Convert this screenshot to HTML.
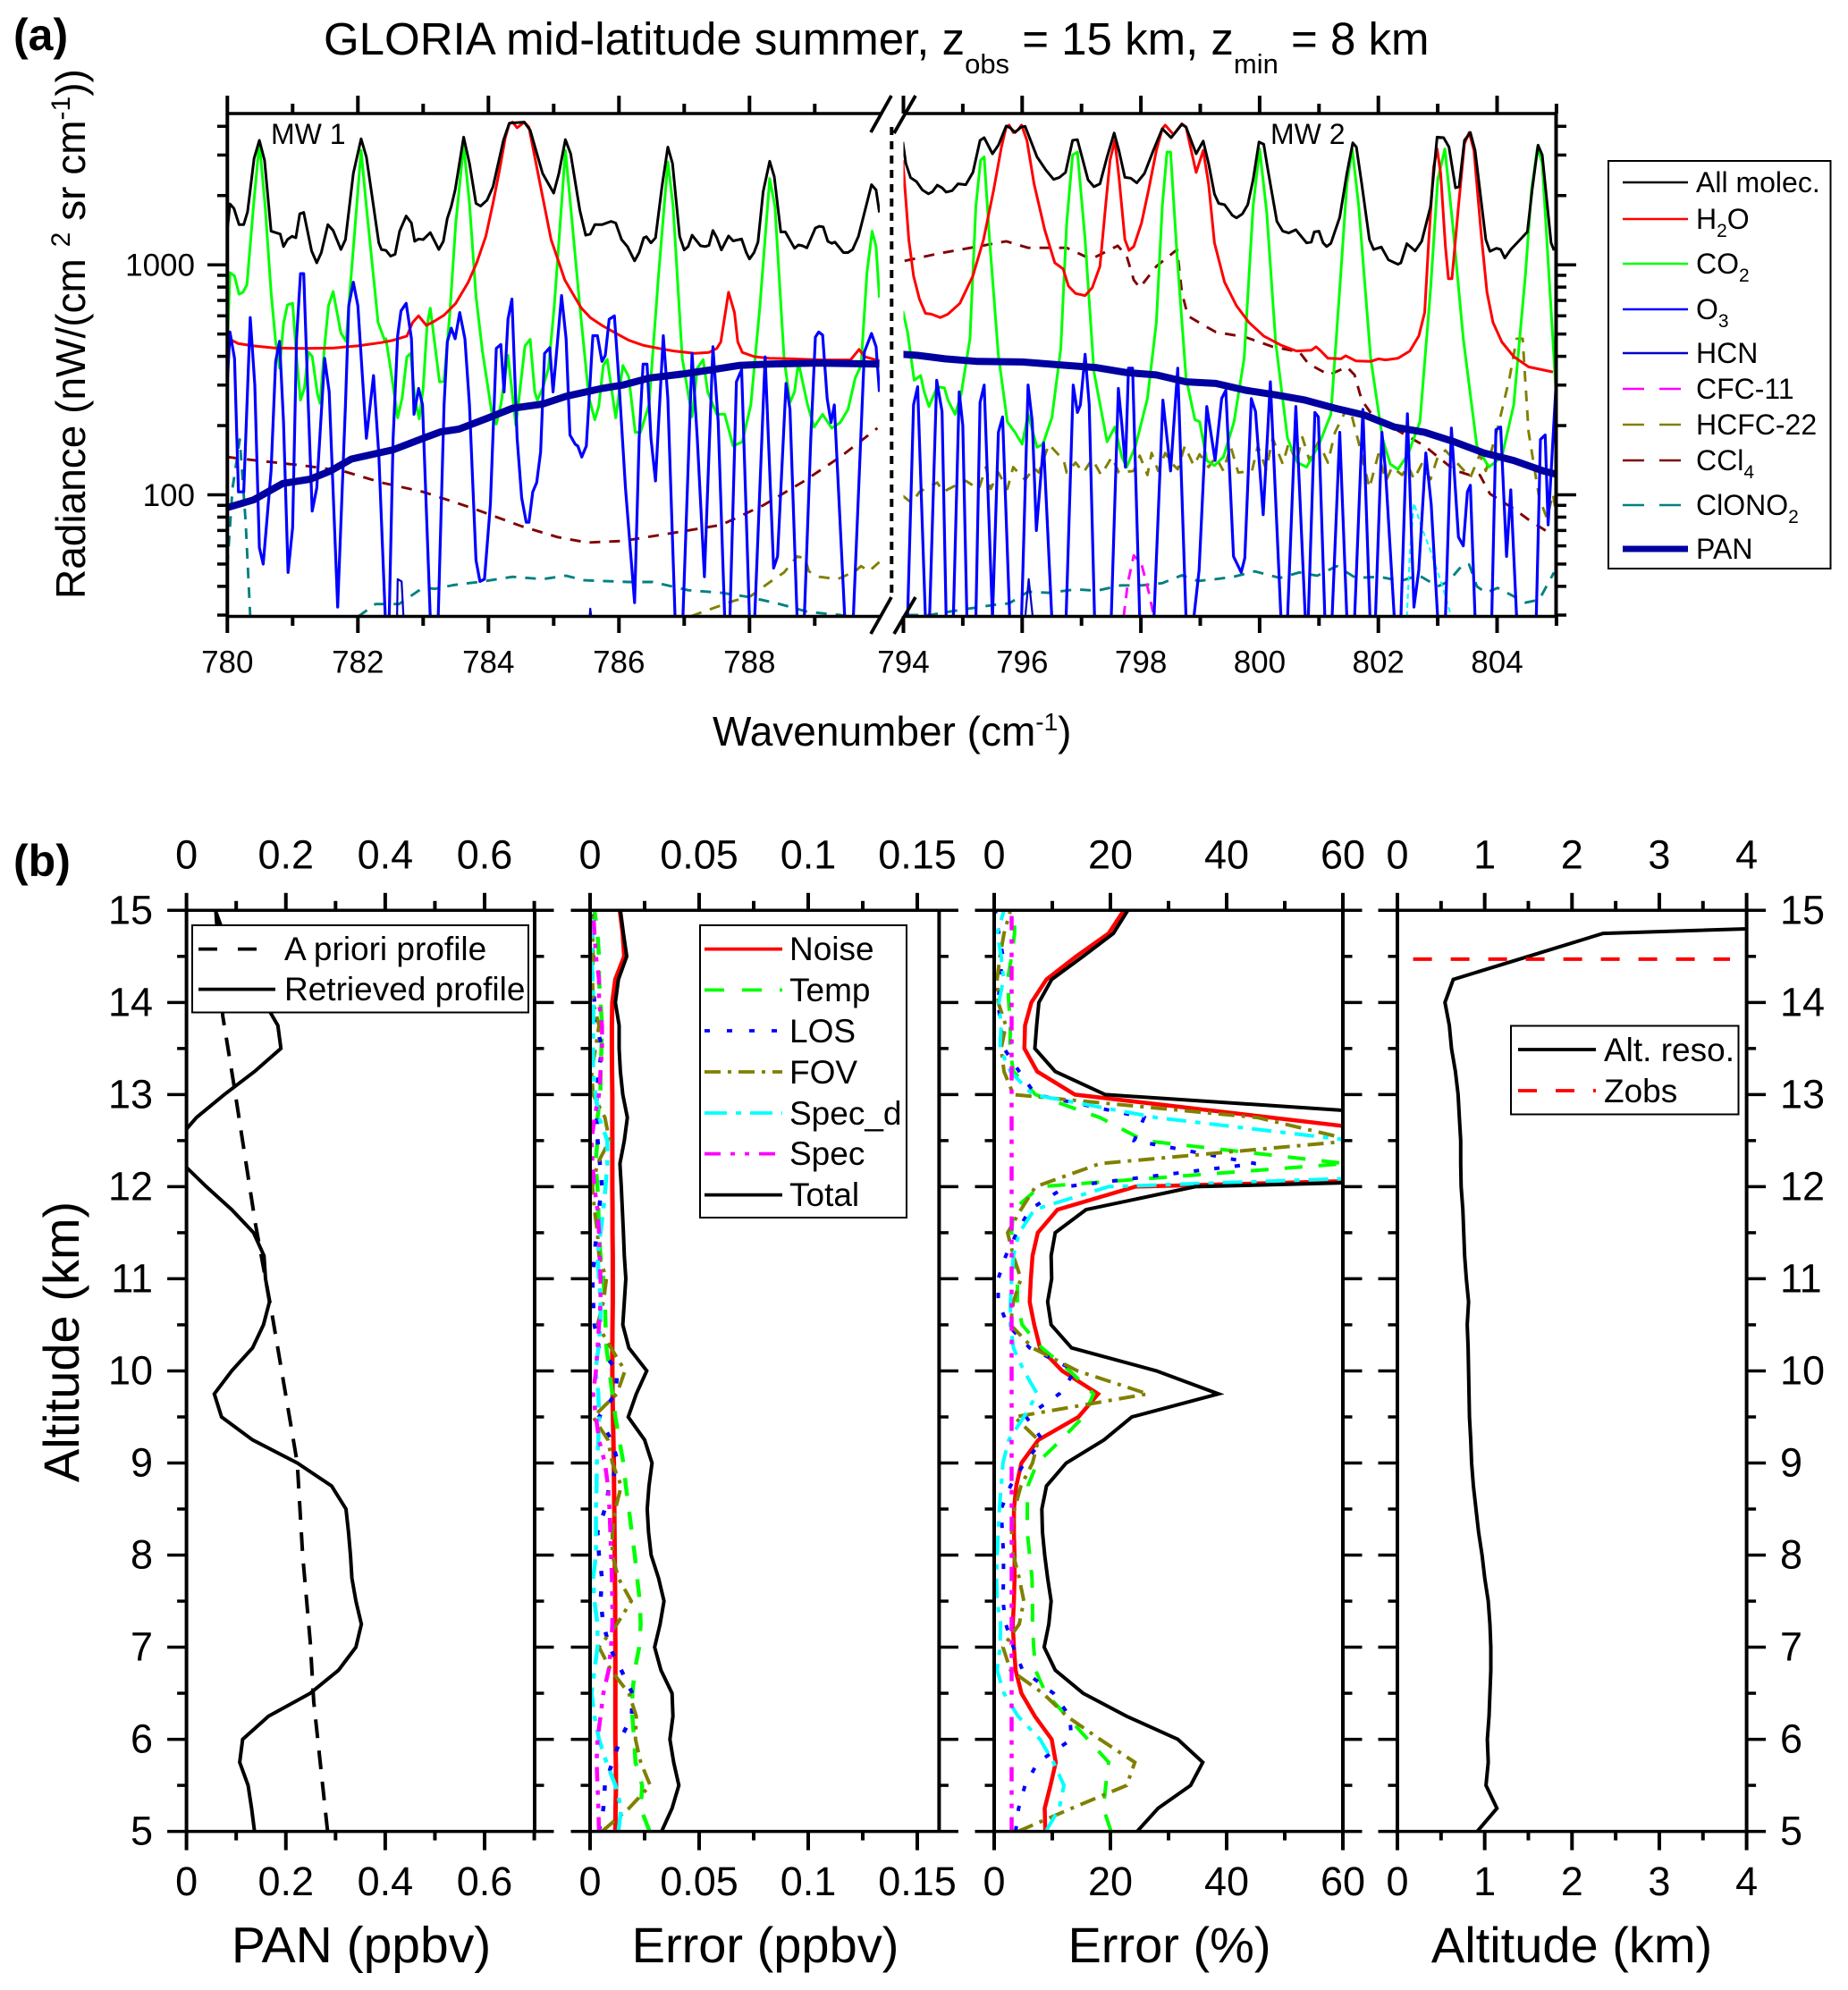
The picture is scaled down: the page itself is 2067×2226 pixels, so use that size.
<!DOCTYPE html>
<html lang="en">
<head>
<meta charset="utf-8">
<title>GLORIA mid-latitude summer PAN retrieval</title>
<style>
html,body{margin:0;padding:0;background:#fff;}
svg{display:block;}
text{font-family:"Liberation Sans",Arial,sans-serif;fill:#000;}
</style>
</head>
<body>
<svg id="root" xmlns="http://www.w3.org/2000/svg" width="2067" height="2226" viewBox="0 0 2067 2226">
<defs>
<clipPath id="clipA"><rect x="254" y="127" width="730" height="563"/><rect x="1010.5" y="127" width="730" height="563"/></clipPath>
<clipPath id="clipP1"><rect x="208.6" y="1018" width="389.4" height="1031"/></clipPath>
<clipPath id="clipP2"><rect x="660" y="1018" width="390.4" height="1031"/></clipPath>
<clipPath id="clipP3"><rect x="1112" y="1018" width="390" height="1031"/></clipPath>
<clipPath id="clipP4"><rect x="1563" y="1018" width="390.6" height="1031"/></clipPath>
</defs>
<rect x="0" y="0" width="2067" height="2226" fill="#fff"/>
<g id="marks"></g>
<g id="axes"></g>

<text x="15" y="56" font-size="50" font-weight="bold">(a)</text>
<text x="15" y="980" font-size="50" font-weight="bold">(b)</text>

<text x="362" y="61" font-size="51">GLORIA mid-latitude summer, z<tspan dy="21" font-size="31">obs</tspan><tspan dy="-21"> = 15 km, z</tspan><tspan dy="21" font-size="31">min</tspan><tspan dy="-21"> = 8 km</tspan></text>

<text x="797" y="834" font-size="46">Wavenumber (cm<tspan dy="-17" font-size="28">-1</tspan><tspan dy="17">)</tspan></text>
<text transform="translate(95 670) rotate(-90)" x="0" y="0" font-size="46">Radiance (nW/(cm <tspan dy="-17" font-size="30">2</tspan><tspan dy="17"> sr cm</tspan><tspan dy="-17" font-size="30">-1</tspan><tspan dy="17">))</tspan></text>

<text x="303" y="161" font-size="32">MW 1</text>
<text x="1421" y="161" font-size="32">MW 2</text>

<line x1="997.3" y1="142" x2="997.3" y2="668" stroke="#000" stroke-width="4" stroke-dasharray="9 7"/>
<g stroke="#000" stroke-width="3.8">
<line x1="974" y1="148" x2="997" y2="107"/>
<line x1="1000" y1="149" x2="1024" y2="107"/>
<line x1="974" y1="709" x2="997" y2="668"/>
<line x1="1000" y1="709" x2="1024" y2="668"/>
</g>

<!-- Legend panel a -->
<g>
<rect x="1799" y="180" width="248.5" height="456" fill="#fff" stroke="#000" stroke-width="2"/>
<g font-size="32">
<line x1="1815" y1="204" x2="1888" y2="204" stroke="#000" stroke-width="2.5"/>
<text x="1897" y="215">All molec.</text>
<line x1="1815" y1="245" x2="1888" y2="245" stroke="#f00" stroke-width="2.5"/>
<text x="1897" y="256">H<tspan dy="9" font-size="21">2</tspan><tspan dy="-9">O</tspan></text>
<line x1="1815" y1="295" x2="1888" y2="295" stroke="#0f0" stroke-width="2.5"/>
<text x="1897" y="306">CO<tspan dy="9" font-size="21">2</tspan></text>
<line x1="1815" y1="346" x2="1888" y2="346" stroke="#00f" stroke-width="2.5"/>
<text x="1897" y="357">O<tspan dy="9" font-size="21">3</tspan></text>
<line x1="1815" y1="395" x2="1888" y2="395" stroke="#0000c8" stroke-width="2.5"/>
<text x="1897" y="406">HCN</text>
<line x1="1815" y1="435" x2="1888" y2="435" stroke="#f0f" stroke-width="2.5" stroke-dasharray="24 17"/>
<text x="1897" y="446">CFC-11</text>
<line x1="1815" y1="475" x2="1888" y2="475" stroke="#808000" stroke-width="2.5" stroke-dasharray="24 17"/>
<text x="1897" y="486">HCFC-22</text>
<line x1="1815" y1="515" x2="1888" y2="515" stroke="#800000" stroke-width="2.5" stroke-dasharray="24 17"/>
<text x="1897" y="526">CCl<tspan dy="9" font-size="21">4</tspan></text>
<line x1="1815" y1="565" x2="1888" y2="565" stroke="#008080" stroke-width="2.5" stroke-dasharray="24 17"/>
<text x="1897" y="576">ClONO<tspan dy="9" font-size="21">2</tspan></text>
<line x1="1815" y1="614" x2="1888" y2="614" stroke="#0000a0" stroke-width="7"/>
<text x="1897" y="625">PAN</text>
</g>
</g>

<!-- Legend panel b1 -->
<g>
<rect x="215" y="1035" width="376" height="97.5" fill="#fff" stroke="#000" stroke-width="2"/>
<g font-size="37">
<line x1="222" y1="1061.6" x2="308" y2="1061.6" stroke="#000" stroke-width="3.8" stroke-dasharray="21 23"/>
<text x="318" y="1074">A priori profile</text>
<line x1="222" y1="1106.6" x2="308" y2="1106.6" stroke="#000" stroke-width="3.8"/>
<text x="318" y="1119">Retrieved profile</text>
</g>
</g>

<!-- Legend panel b2 -->
<g>
<rect x="783" y="1035" width="231" height="327" fill="#fff" stroke="#000" stroke-width="2"/>
<g font-size="37" stroke-width="3.8">
<line x1="788" y1="1061.6" x2="875" y2="1061.6" stroke="#f00"/>
<text x="883" y="1074">Noise</text>
<line x1="788" y1="1107.4" x2="875" y2="1107.4" stroke="#0f0" stroke-dasharray="22 20"/>
<text x="883" y="1120">Temp</text>
<line x1="788" y1="1153" x2="875" y2="1153" stroke="#00f" stroke-dasharray="6 19"/>
<text x="883" y="1166">LOS</text>
<line x1="788" y1="1199" x2="875" y2="1199" stroke="#808000" stroke-dasharray="18 8 4 8"/>
<text x="883" y="1212">FOV</text>
<line x1="788" y1="1245" x2="875" y2="1245" stroke="#0ff" stroke-dasharray="25 10 6 10"/>
<text x="883" y="1258">Spec_d</text>
<line x1="788" y1="1290.6" x2="875" y2="1290.6" stroke="#f0f" stroke-dasharray="18 11 5 11 5 11"/>
<text x="883" y="1303">Spec</text>
<line x1="788" y1="1336.6" x2="875" y2="1336.6" stroke="#000"/>
<text x="883" y="1349">Total</text>
</g>
</g>

<!-- Legend panel b4 -->
<g>
<rect x="1690" y="1147.5" width="254.5" height="99" fill="#fff" stroke="#000" stroke-width="2"/>
<g font-size="37" stroke-width="3.8">
<line x1="1698" y1="1174" x2="1785" y2="1174" stroke="#000"/>
<text x="1794" y="1187">Alt. reso.</text>
<line x1="1698" y1="1220" x2="1785" y2="1220" stroke="#f00" stroke-dasharray="21 21"/>
<text x="1794" y="1233">Zobs</text>
</g>
</g>

<text x="404" y="2195" font-size="57" text-anchor="middle">PAN (ppbv)</text>
<text x="856" y="2195" font-size="56" text-anchor="middle">Error (ppbv)</text>
<text x="1308" y="2195" font-size="56" text-anchor="middle">Error (%)</text>
<text x="1758" y="2195" font-size="56" text-anchor="middle">Altitude (km)</text>
<text transform="translate(88 1501) rotate(-90)" x="0" y="0" font-size="56" text-anchor="middle">Altitude (km)</text>
</svg>

<script>
// ===== Panel (a) tick values =====
const wnMajorLeft = [780, 782, 784, 786, 788];
const wnMinorLeft = [781, 783, 785, 787, 789];
const wnMajorRight = [794, 796, 798, 800, 802, 804];
const wnMinorRight = [795, 797, 799, 801, 803, 805];
const radianceMajor = [100, 1000];
const radianceMinor = [30, 40, 50, 60, 70, 80, 90, 200, 300, 400, 500, 600, 700, 800, 900, 2000, 3000, 4000];

// ===== Panel (a) spectra: [wavenumber cm-1, radiance nW/(cm2 sr cm-1)] =====
const allMolecSpectrum = [[780.00,1420],[780.04,1840],[780.10,1760],[780.18,1495],[780.25,1495],[780.31,1700],[780.41,2900],[780.49,3476],[780.57,2850],[780.67,1400],[780.81,1360],[780.86,1200],[780.92,1287],[780.99,1330],[781.05,1310],[781.11,1665],[781.17,1690],[781.29,1150],[781.37,1020],[781.44,1130],[781.54,1495],[781.62,1410],[781.74,1165],[781.81,1287],[781.93,2496],[782.05,3530],[782.13,2945],[782.32,1245],[782.36,1165],[782.43,1155],[782.50,1091],[782.57,1110],[782.64,1400],[782.74,1630],[782.82,1519],[782.87,1265],[782.93,1295],[783.00,1287],[783.11,1380],[783.24,1165],[783.31,1265],[783.37,1590],[783.43,1792],[783.49,2115],[783.62,3590],[783.71,2760],[783.81,1850],[783.88,1800],[783.98,1910],[784.07,2185],[784.23,3476],[784.32,4130],[784.55,4170],[784.64,3850],[784.83,2496],[785.00,2050],[785.08,2496],[785.18,3500],[785.26,3040],[785.40,1730],[785.49,1345],[785.56,1360],[785.63,1495],[785.74,1495],[785.88,1545],[785.95,1519],[786.04,1287],[786.13,1200],[786.24,1040],[786.31,1130],[786.38,1310],[786.42,1325],[786.49,1245],[786.56,1310],[786.66,2200],[786.75,3250],[786.82,2760],[786.93,1330],[787.00,1160],[787.06,1200],[787.12,1345],[787.25,1210],[787.32,1200],[787.38,1215],[787.44,1410],[787.50,1310],[787.57,1160],[787.68,1335],[787.75,1270],[787.88,1295],[787.95,1130],[788.00,1060],[788.07,1130],[788.13,1255],[788.21,2080],[788.31,2820],[788.38,2420],[788.48,1390],[788.55,1390],[788.69,1180],[788.75,1220],[788.81,1210],[788.88,1185],[789.01,1445],[789.07,1470],[789.13,1460],[789.20,1265],[789.26,1240],[789.31,1255],[789.44,1130],[789.51,1130],[789.58,1165],[789.67,1330],[789.87,2230],[789.94,2115],[789.99,1690],
[793.99,3420],[794.04,2760],[794.12,2390],[794.22,2300],[794.32,2115],[794.42,2035],[794.49,2080],[794.57,2220],[794.65,2160],[794.72,2070],[794.82,2100],[794.92,2250],[795.05,2230],[795.17,2520],[795.29,3476],[795.36,3570],[795.50,3040],[795.60,3310],[795.73,4010],[795.80,3940],[795.88,3760],[795.98,3970],[796.05,4000],[796.25,2945],[796.40,2580],[796.53,2350],[796.63,2400],[796.73,2520],[796.85,3476],[796.93,3500],[797.11,2340],[797.21,2185],[797.31,2250],[797.43,2945],[797.55,3740],[797.63,3140],[797.73,2400],[797.83,2380],[797.93,2270],[798.06,2496],[798.21,3140],[798.36,3900],[798.51,3570],[798.69,4080],[798.76,3970],[798.93,3040],[799.05,3450],[799.14,2760],[799.24,2030],[799.31,1850],[799.41,1825],[799.54,1640],[799.61,1600],[799.71,1665],[799.80,1825],[799.89,2340],[799.99,3420],[800.07,3340],[800.14,2580],[800.29,1545],[800.39,1400],[800.49,1375],[800.61,1420],[800.79,1245],[800.87,1255],[800.92,1390],[801.00,1400],[801.07,1245],[801.13,1200],[801.20,1240],[801.35,1610],[801.47,2496],[801.57,3390],[801.63,3250],[801.72,2250],[801.85,1287],[801.92,1165],[802.05,1195],[802.17,1050],[802.33,1005],[802.38,1020],[802.48,1235],[802.62,1150],[802.73,1265],[802.88,1792],[802.99,3590],[803.10,3570],[803.19,3250],[803.30,2160],[803.36,2185],[803.45,3476],[803.55,3760],[803.63,3140],[803.81,1287],[803.88,1145],[803.99,1180],[804.06,1165],[804.13,1070],[804.23,1165],[804.51,1390],[804.59,2115],[804.69,3310],[804.76,3000],[804.91,1245],[804.96,1155]];

const h2oSpectrum = [[780.02,477],[780.17,454],[780.40,444],[780.72,435],[781.17,433],[781.63,435],[782.00,444],[782.36,459],[782.54,470],[782.75,490],[782.84,562],[782.93,600],[783.05,545],[783.18,570],[783.32,604],[783.50,680],[783.69,840],[783.82,1020],[783.96,1330],[784.07,1850],[784.17,2580],[784.26,3590],[784.32,4100],[784.37,4170],[784.44,3940],[784.55,4170],[784.62,3970],[784.71,2945],[784.83,1980],[784.96,1287],[785.10,985],[785.17,860],[785.28,760],[785.42,650],[785.56,590],[785.74,545],[785.92,510],[786.15,470],[786.38,446],[786.61,433],[786.84,422],[787.16,412],[787.38,416],[787.50,433],[787.56,462],[787.68,760],[787.77,620],[787.82,462],[787.89,416],[788.07,399],[788.30,392],[788.66,390],[789.12,386],[789.55,386],[789.68,429],[789.76,399],[789.99,382],
[793.99,2850],[794.04,1910],[794.09,1287],[794.17,895],[794.27,710],[794.37,615],[794.47,610],[794.62,590],[794.75,610],[794.95,680],[795.17,895],[795.35,1287],[795.52,2115],[795.65,3250],[795.73,3970],[795.78,4050],[795.85,3760],[795.93,3860],[795.99,4050],[796.08,3476],[796.20,2250],[796.38,1420],[796.55,1020],[796.69,960],[796.78,808],[796.90,750],[797.06,735],[797.18,795],[797.31,985],[797.41,1850],[797.48,2850],[797.56,3476],[797.63,2420],[797.73,1287],[797.80,1155],[797.88,1200],[798.01,1519],[798.13,2115],[798.26,3140],[798.36,3900],[798.41,4050],[798.55,3680],[798.69,4100],[798.76,3970],[798.93,2520],[799.05,3140],[799.14,2250],[799.24,1245],[799.41,840],[799.61,664],[799.82,562],[800.07,490],[800.37,446],[800.62,422],[800.87,425],[800.95,440],[801.02,425],[801.15,392],[801.37,390],[801.45,402],[801.62,382],[801.87,380],[802.00,390],[802.12,386],[802.33,392],[802.53,422],[802.68,490],[802.78,620],[802.85,1287],[802.93,2660],[802.99,3190],[803.05,2496],[803.13,1200],[803.18,870],[803.24,870],[803.35,1792],[803.45,3360],[803.53,3760],[803.61,3140],[803.73,1375],[803.83,760],[803.93,562],[804.08,462],[804.28,399],[804.53,360],[804.94,342]];

const co2Spectrum = [[780.00,446],[780.04,924],[780.11,895],[780.18,745],[780.24,760],[780.30,820],[780.40,1792],[780.49,3400],[780.58,1792],[780.67,760],[780.74,463],[780.80,355],[780.86,555],[780.92,670],[781.00,680],[781.06,395],[781.12,258],[781.18,290],[781.24,418],[781.30,400],[781.38,275],[781.42,250],[781.49,446],[781.55,664],[781.62,765],[781.74,505],[781.82,465],[781.86,664],[782.05,3140],[782.13,1792],[782.31,562],[782.41,470],[782.43,477],[782.50,355],[782.61,216],[782.68,265],[782.75,398],[782.81,412],[782.87,265],[782.94,214],[783.00,290],[783.06,545],[783.11,648],[783.25,310],[783.32,312],[783.41,620],[783.50,1519],[783.62,3310],[783.71,1850],[783.81,730],[783.91,418],[784.05,230],[784.12,203],[784.19,246],[784.30,404],[784.42,200],[784.56,444],[784.64,474],[784.71,280],[784.75,258],[784.83,290],[784.92,355],[785.01,664],[785.18,3140],[785.26,1792],[785.40,664],[785.54,265],[785.63,212],[785.69,242],[785.76,365],[785.82,388],[785.95,216],[786.06,365],[786.15,326],[786.25,187],[786.33,187],[786.46,246],[786.61,924],[786.75,2800],[786.83,1792],[786.97,392],[787.12,218],[787.20,355],[787.29,387],[787.36,280],[787.50,224],[787.62,224],[787.75,163],[787.89,170],[788.02,246],[788.16,664],[788.31,2370],[788.39,1792],[788.53,392],[788.62,252],[788.69,280],[788.75,377],[788.89,246],[788.99,197],[789.12,224],[789.26,195],[789.39,206],[789.51,235],[789.62,322],[789.71,365],[789.80,924],[789.88,1400],[789.94,1200],[789.99,720],
[793.99,630],[794.07,510],[794.18,315],[794.29,330],[794.35,280],[794.43,242],[794.57,295],[794.69,292],[794.75,258],[794.87,224],[794.97,272],[795.12,477],[795.22,1792],[795.30,2850],[795.36,2945],[795.45,1287],[795.60,404],[795.75,208],[795.88,187],[796.00,166],[796.10,224],[796.25,161],[796.35,166],[796.50,216],[796.65,433],[796.75,1519],[796.85,3000],[796.93,3090],[797.06,1287],[797.21,342],[797.43,170],[797.56,197],[797.68,146],[797.76,132],[797.91,163],[798.11,262],[798.26,562],[798.36,1792],[798.44,3090],[798.50,3090],[798.61,1091],[798.76,322],[798.91,212],[798.99,208],[799.11,141],[799.24,134],[799.39,146],[799.57,208],[799.74,392],[799.89,1792],[800.00,3190],[800.12,1680],[800.27,462],[800.47,176],[800.64,138],[800.79,132],[800.99,163],[801.20,224],[801.35,783],[801.47,2250],[801.56,3190],[801.67,1792],[801.87,392],[802.07,176],[802.20,136],[802.33,129],[802.50,150],[802.70,208],[802.88,783],[803.00,2340],[803.12,3190],[803.25,1519],[803.43,477],[803.66,163],[803.86,132],[804.08,146],[804.28,246],[804.48,924],[804.58,2115],[804.68,3250],[804.76,2760],[804.99,290]];

const o3Spectrum = [[780.00,310],[780.04,510],[780.11,392],[780.17,103],[780.25,103],[780.35,590],[780.42,300],[780.49,59],[780.55,50],[780.67,127],[780.74,380],[780.80,465],[780.86,208],[780.93,46],[781.00,72],[781.06,477],[781.12,915],[781.17,915],[781.24,246],[781.30,85],[781.37,107],[781.49,392],[781.56,280],[781.69,32.5],[781.81,246],[781.86,664],[781.93,840],[782.00,664],[782.13,176],[782.24,330],[782.32,150],[782.42,29],[782.48,29],[782.54,176],[782.61,492],[782.66,630],[782.74,680],[782.82,477],[782.86,224],[782.93,290],[782.99,246],[783.11,29],[783.23,29],[783.32,246],[783.37,462],[783.43,530],[783.49,477],[783.56,620],[783.64,477],[783.71,246],[783.81,52],[783.87,42],[783.94,43],[784.03,91],[784.12,433],[784.19,450],[784.24,280],[784.30,580],[784.36,710],[784.44,176],[784.51,97],[784.58,76],[784.62,76],[784.68,103],[784.74,113],[784.80,154],[784.86,412],[784.94,436],[784.99,280],[785.12,735],[785.19,477],[785.25,182],[785.33,166],[785.37,163],[785.43,146],[785.50,163],[785.60,492],[785.67,492],[785.74,380],[785.79,404],[785.85,580],[785.93,600],[785.99,342],[786.10,107],[786.24,34],[786.31,176],[786.37,370],[786.43,370],[786.49,176],[786.56,115],[786.68,492],[786.75,262],[786.86,29],[786.98,29],[787.12,412],[787.20,176],[787.31,44],[787.44,440],[787.52,208],[787.62,29],[787.70,29],[787.80,310],[787.88,350],[788.00,29],[788.08,29],[788.24,398],[788.37,48],[788.43,54],[788.56,305],[788.62,235],[788.73,29],[788.84,29],[788.94,176],[789.01,485],[789.06,510],[789.12,495],[789.19,262],[789.25,206],[789.30,246],[789.46,29],[789.59,29],[789.76,418],[789.87,503],[789.94,440],[789.99,280],
[794.07,29],[794.17,246],[794.24,295],[794.37,29],[794.44,29],[794.56,315],[794.65,230],[794.72,29],[794.84,29],[794.94,280],[795.00,200],[795.07,29],[795.22,29],[795.29,252],[795.36,300],[795.50,29],[795.60,187],[795.67,218],[795.79,29],[795.99,29],[796.10,300],[796.17,208],[796.24,70],[796.36,168],[796.50,29],[796.74,29],[796.86,300],[796.93,228],[796.98,246],[797.06,408],[797.13,246],[797.22,29],[797.50,29],[797.62,290],[797.68,200],[797.74,132],[797.79,355],[797.86,355],[797.98,29],[798.22,29],[798.37,258],[798.50,127],[798.62,355],[798.76,29],[798.89,29],[798.98,47],[799.11,242],[799.25,141],[799.36,262],[799.43,285],[799.56,54],[799.69,46],[799.75,53],[799.86,262],[799.93,230],[800.06,82],[800.18,310],[800.36,29],[800.47,29],[800.61,242],[800.77,29],[800.82,29],[800.93,228],[800.99,218],[801.10,29],[801.22,29],[801.35,187],[801.47,29],[801.60,29],[801.74,235],[801.86,29],[801.95,29],[802.06,187],[802.12,127],[802.27,29],[802.38,29],[802.49,225],[802.60,32.5],[802.68,47],[802.80,152],[802.89,91],[803.00,29],[803.13,29],[803.23,195],[803.35,65.5],[803.43,60],[803.50,103],[803.55,110],[803.63,29],[803.91,29],[803.98,192],[804.06,197],[804.16,54],[804.23,105],[804.33,29],[804.66,29],[804.73,174],[804.81,182],[804.86,74],[804.99,290]];

const hcnSpectrum = [[782.60,29],[782.61,43],[782.67,42],[782.70,29],[785.55,29],[785.56,32],[785.58,29],[796.05,29],[796.11,43],[796.18,29]];

const panSpectrum = [[780.00,88],[780.40,95],[780.85,112],[781.27,117],[781.58,127],[781.90,143],[782.54,157],[783.00,176],[783.27,188],[783.55,193],[784.00,216],[784.37,238],[784.83,248],[785.19,268],[785.74,290],[786.06,300],[786.47,322],[786.97,335],[787.43,350],[787.84,365],[788.30,370],[789.03,374],[789.99,370],
[793.99,408],[794.24,404],[794.70,390],[795.25,380],[796.00,378],[796.75,365],[797.26,357],[797.76,340],[798.26,332],[798.76,310],[799.26,305],[799.76,285],[800.27,272],[800.77,258],[801.27,238],[801.77,222],[802.27,197],[802.78,187],[803.28,170],[803.78,152],[804.28,141],[804.78,127],[804.99,123]];

const ccl4Spectrum = [[780.00,146],[780.44,141],[781.17,134],[781.77,127],[782.36,113],[783.00,103],[783.73,88],[784.51,73],[785.06,65.5],[785.51,62],[786.06,63],[786.79,68],[787.57,74],[788.21,90],[788.80,113],[789.39,146],[789.96,195],
[794.02,1040],[794.60,1120],[795.25,1200],[795.73,1265],[796.10,1185],[796.75,1185],[797.16,1058],[797.61,1210],[797.76,1091],[797.88,860],[797.98,795],[798.26,985],[798.61,1165],[798.69,760],[798.79,600],[799.01,555],[799.26,510],[799.76,485],[800.22,440],[800.67,418],[800.82,372],[801.17,332],[801.47,360],[801.60,332],[801.72,258],[801.92,218],[802.38,187],[802.78,163],[803.28,128],[803.53,122],[803.71,122],[803.88,101],[804.28,87],[804.53,78],[804.89,68]];

const hcfc22Spectrum = [[787.11,29.7],[787.38,31.7],[787.75,34.5],[788.02,36.3],[788.30,41.5],[788.53,46],[788.73,54],[788.85,53],[788.91,46.5],[789.07,44],[789.35,43],[789.62,46.5],[789.71,49],[789.83,46.5],[789.99,51],
[793.99,99],[794.14,92],[794.27,103],[794.57,113],[794.67,103],[794.97,113],[795.05,115],[795.27,106],[795.39,132],[795.47,106],[795.60,125],[795.75,106],[795.85,132],[796.05,116],[796.20,131],[796.28,125],[796.45,166],[796.70,141],[796.75,125],[796.90,138],[797.03,125],[797.18,143],[797.33,122],[797.51,146],[797.63,125],[797.88,127],[797.98,148],[798.11,122],[798.18,152],[798.29,127],[798.41,152],[798.51,138],[798.62,129],[798.74,163],[798.89,134],[798.99,150],[799.14,132],[799.26,146],[799.39,127],[799.51,163],[799.64,125],[799.87,127],[799.97,163],[800.11,129],[800.22,176],[800.39,136],[800.49,168],[800.62,138],[800.72,178],[800.84,141],[800.99,170],[801.15,138],[801.27,187],[801.42,224],[801.52,238],[801.67,168],[801.85,107],[802.00,150],[802.13,115],[802.23,132],[802.40,122],[802.50,134],[802.60,117],[802.73,136],[802.88,117],[803.00,146],[803.13,156],[803.55,119],[803.71,150],[803.81,127],[804.01,195],[804.21,322],[804.33,477],[804.43,477],[804.53,188],[804.71,97],[804.84,79],[804.94,101],[804.99,85]];

const clono2Spectrum = [[780.00,49],[780.08,107],[780.19,174],[780.28,77],[780.35,29.5],[782.00,29.5],[782.27,33.5],[782.63,33.5],[783.00,39.5],[783.18,39],[783.46,40.5],[783.91,42],[784.37,44],[784.83,43],[785.19,44.5],[785.47,42.5],[786.15,41.8],[786.52,41.8],[787.06,38.5],[787.57,37.5],[787.98,36],[788.43,33.7],[788.89,31],[789.39,30],[789.58,29.5],
[794.07,30],[794.44,30],[794.75,31],[795.10,32],[795.60,33.4],[795.78,33.7],[796.10,37.9],[796.45,37.5],[796.90,38.8],[797.26,38.3],[797.66,40.4],[798.01,40.4],[798.36,41.3],[798.69,44.7],[798.96,42.2],[799.26,43],[799.56,44],[799.92,46.5],[800.34,43.5],[800.67,46],[800.97,44.5],[801.30,49],[801.62,43.5],[802.02,44],[802.38,42.2],[802.68,44.7],[803.00,40],[803.18,42],[803.43,50],[803.53,49.7],[803.66,40],[803.81,37.5],[804.01,39.4],[804.48,34],[804.71,35],[804.96,46]];

const cfc11Spectrum = [[797.71,29.5],[797.78,41.5],[797.88,54.5],[798.01,50],[798.13,38],[798.22,29.5]];
const cyanTraceSpectrum = [[802.48,29.5],[802.53,55.5],[802.60,92],[802.73,72],[802.88,57],[803.08,40],[803.23,29.5]];

// ===== Panel (b) shared altitude grid and tick values =====
const altitudeKm = [5,5.25,5.5,5.75,6,6.25,6.5,6.75,7,7.25,7.5,7.75,8,8.25,8.5,8.75,9,9.25,9.5,9.75,10,10.25,10.5,10.75,11,11.25,11.5,11.75,12,12.25,12.5,12.75,13,13.25,13.5,13.75,14,14.25,14.5,14.75,15];
const altitudeMajorTicks = [5,6,7,8,9,10,11,12,13,14,15];
const altitudeMinorTicks = [5.5,6.5,7.5,8.5,9.5,10.5,11.5,12.5,13.5,14.5];

const panMajorTicks = [0,0.2,0.4,0.6];
const panMinorTicks = [0.1,0.3,0.5,0.7];
const errPpbvMajorTicks = [0,0.05,0.1,0.15];
const errPpbvMinorTicks = [0.025,0.075,0.125];
const errPctMajorTicks = [0,20,40,60];
const errPctMinorTicks = [10,30,50];
const resoMajorTicks = [0,1,2,3,4];
const resoMinorTicks = [0.5,1.5,2.5,3.5];

// PAN profiles
const aprioriAltitude = [5,6.41,7.06,7.99,9,10.62,11.59,13.12,13.85,15];
const aprioriPan = [0.284,0.256,0.249,0.234,0.223,0.172,0.139,0.095,0.073,0.059];
const retrievedPan = [0.137,0.131,0.124,0.107,0.113,0.165,0.249,0.306,0.341,0.352,0.341,0.333,0.330,0.326,0.321,0.292,0.223,0.133,0.0705,0.056,0.091,0.133,0.155,0.167,0.159,0.156,0.135,0.091,0.040,-0.008,-0.02,0.02,0.076,0.137,0.190,0.184,0.157,0.13,0.10,0.075,0.058];

// Absolute errors (ppbv)
const noisePpbv = [.0116,.0117,.0119,.0118,.0116,.0116,.0116,.0116,.0116,.0115,.0115,.0114,.0113,.0112,.0111,.011,.0109,.0107,.0105,.0103,.0102,.0102,.0103,.0104,.0104,.0104,.0103,.0103,.0102,.0102,.0102,.0102,.0102,.0101,.01,.01,.0102,.0116,.0157,.015,.0137];
const tempPpbv = [.0273,.0232,.0239,.0208,.0202,.0194,.0194,.0205,.0225,.0232,.0228,.0216,.0205,.0191,.0178,.0164,.0153,.0134,.0116,.0102,.0089,.0075,.0071,.0068,.0061,.0048,.0041,.0038,.0034,.0025,.0034,.0034,.0048,.0048,.0052,.0055,.0048,.0041,.0041,.0034,.002];
const losPpbv = [.004,.0061,.0068,.0102,.0139,.0191,.0194,.0143,.0089,.0061,.0048,.0055,.0041,.0034,.0068,.0089,.013,.0096,.0041,.0116,.0126,.0041,.002,.0014,.0011,.002,.003,.004,.0055,.0045,.0035,.003,.003,.004,.0055,.003,.002,.001,.0015,.001,.0005];
const fovPpbv = [.0055,.0178,.0276,.0232,.0208,.0212,.0178,.0096,.0041,.0123,.0189,.013,.0102,.0102,.0116,.0143,.0102,.0082,.0014,.0123,.016,.0096,.0034,.0061,.0075,.0041,.0034,.002,.0011,.0034,.0089,.0068,.0014,.0007,.0025,.0041,.0014,.0011,.0014,.0011,.0007];
const specDPpbv = [.013,.0143,.0116,.0075,.0041,.002,.0007,.002,.0034,.0034,.002,.0014,.0027,.0027,.0027,.003,.0031,.0038,.0041,.0038,.0025,.0038,.0048,.0048,.0041,.0034,.0048,.0061,.0071,.0079,.0079,.0041,.0025,.0014,.0014,.0014,.0016,.0011,.0007,.0011,.0007];
const specPpbv = [.0041,.0038,.0034,.003,.0034,.0048,.0061,.0085,.0096,.0102,.0102,.01,.0096,.0093,.0089,.0082,.0068,.0041,.0027,.0014,.0027,.0034,.0041,.0048,.0048,.0044,.0041,.0034,.002,.0011,.0007,.002,.0041,.0048,.0055,.0055,.0041,.0041,.0027,.002,.0014];
const totalPpbv = [.0328,.0376,.0407,.0383,.0366,.038,.0376,.0325,.0296,.0321,.0339,.0314,.028,.0268,.0262,.027,.0284,.025,.0175,.0212,.026,.0178,.015,.0157,.0164,.0157,.0153,.0148,.0143,.0137,.0157,.0171,.015,.0139,.0133,.0133,.0116,.013,.0168,.0153,.0139];

// Relative errors (%)
const noisePct = [8.8,8.7,9.7,10.6,9.9,7.0,4.7,3.7,3.4,3.2,3.4,3.5,3.5,3.4,3.4,3.8,4.7,7.6,14.5,17.9,11.7,7.9,6.9,6.1,6.3,6.6,7.5,10.9,24.3,174,81.5,47.7,13.9,7.4,5.2,5.3,6.4,9.0,14.1,19.7,22.3];
const tempPct = [20.1,18.8,19.2,19.7,16.1,12.5,8.9,7.1,6.8,6.6,6.6,6.5,6.1,5.7,5.7,5.8,7.4,11.5,15.3,17.1,13,8.2,4.8,4,4,3.3,3,3.3,7.9,60.5,25.8,18.2,7.1,3.3,2.7,2.8,2.5,2.3,3,3.5,3.5];
const losPct = [3.7,4.2,5.3,7.5,13.3,13,10.2,4.9,3.3,2,1.5,1.6,1.6,1.4,1.2,2.8,5.2,8.3,5.5,11.2,14,6.1,2.3,.7,.7,2,3.9,6.1,12.3,45,24.1,25.8,7.1,4.3,1.7,1.1,.7,1,1.5,.8,.2];
const fovPct = [4.1,13.3,22.8,24.2,18.2,12.5,8.4,2.8,1.5,4.3,5.1,4.3,3.3,3,3.5,4.6,6.6,7.6,3.5,26.4,14.3,6.6,2.8,3.3,4.6,3.3,2.3,4.6,7.1,18.2,62,45.3,3.3,1.7,1.2,2,.7,.5,1,1.7,2.8];
const specDPct = [8.9,11.2,12,10.2,7.9,4.1,1.7,.5,1,1.1,.5,.4,.5,.7,.9,1.2,1.5,2.5,5.1,7.4,5.1,3.3,2.8,2.8,3,3.3,4.3,6.9,19.7,135.7,61.7,27.9,6.6,2.8,1,1.2,.8,1.6,1.2,.5,1.7];
const specPct = [3,3,3,3,3,3,3,3,3,3,3,3,3,3,3,3,3,3,3,3,3,3,3,3,3,3,3,3,3,3,3,3,3,3,3,3,3,3,3,3,3];
const totalPct = [24.6,28.2,33.8,35.9,31.6,22.8,15.3,10.5,8.6,9.4,9.8,9.2,8.7,8.3,8.2,9.0,12.4,18.9,23.7,38.6,27.9,13.3,9.8,9.2,9.9,9.8,10.5,15.8,34.6,190,250,79,19.1,10.5,7.0,7.3,7.7,9.9,15.3,20.5,23];

// Altitude resolution (km) and observer altitude
const altReso = [.915,1.14,1.015,1.04,1.03,1.05,1.06,1.07,1.07,1.06,1.04,1.0,.97,.93,.9,.87,.85,.84,.825,.82,.815,.81,.8,.815,.79,.77,.76,.75,.73,.725,.725,.71,.695,.665,.62,.595,.545,.64,1.5,2.355,10.6];
const zobsResolution = [0.18,3.81];
const zobsAltitude = [14.47,14.47];

// ===== Axis functions =====
const NS = 'http://www.w3.org/2000/svg';
const marks = document.getElementById('marks');
const axes = document.getElementById('axes');

function svgEl(tag, attrs) {
  const el = document.createElementNS(NS, tag);
  for (const k in attrs) el.setAttribute(k, attrs[k]);
  return el;
}
function xA(w) { return w <= 790 ? 254.3 + (w - 780) * 73 : 1010.5 + (w - 794) * 66.4; }
function yA(v) { return 553.5 - 257.3 * Math.log10(v / 100); }
function yB(z) { return 2048.6 - 103.03 * (z - 5); }

function spectrumPath(pairs) {
  let d = '';
  let prev = null;
  for (const p of pairs) {
    const cmd = (prev === null || (prev <= 790 && p[0] > 790)) ? 'M' : 'L';
    d += cmd + xA(p[0]).toFixed(1) + ' ' + yA(p[1]).toFixed(1);
    prev = p[0];
  }
  return d;
}
function addSpectrum(pairs, name, color, width, dash) {
  const el = svgEl('path', {d: spectrumPath(pairs), fill: 'none', stroke: color, 'stroke-width': width, 'stroke-linejoin': 'round', 'clip-path': 'url(#clipA)'});
  if (dash) el.setAttribute('stroke-dasharray', dash);
  
  
  marks.appendChild(el);
}
function addAxisLine(x1, y1, x2, y2, w, name) {
  const el = svgEl('line', {x1: x1, y1: y1, x2: x2, y2: y2, stroke: '#000', 'stroke-width': w});
  
  
  axes.appendChild(el);
}
function addLabel(x, y, txt, size, anchor, name) {
  const el = svgEl('text', {x: x, y: y, 'font-size': size, 'text-anchor': anchor});
  el.textContent = txt;
  
  
  axes.appendChild(el);
}

// ===== Panel (a) marks =====
addSpectrum(clono2Spectrum, 'clono2-line', '#008080', 2.9, '12 10');
addSpectrum(cyanTraceSpectrum, 'cyan-trace-line', '#00ffff', 2, '6 4');
addSpectrum(cfc11Spectrum, 'cfc11-line', '#ff00ff', 2.9, '12 9');
addSpectrum(hcfc22Spectrum, 'hcfc22-line', '#808000', 2.9, '12 10');
addSpectrum(ccl4Spectrum, 'ccl4-line', '#800000', 2.9, '12 10');
addSpectrum(hcnSpectrum, 'hcn-line', '#0000c8', 2.2);
addSpectrum(co2Spectrum, 'co2-line', '#00ff00', 3);
addSpectrum(h2oSpectrum, 'h2o-line', '#ff0000', 3);
addSpectrum(allMolecSpectrum, 'all-molecules-line', '#000000', 3);
addSpectrum(o3Spectrum, 'o3-line', '#0000ff', 3.2);
addSpectrum(panSpectrum, 'pan-line', '#0000a0', 8);

// ===== Panel (a) axes =====
addAxisLine(254.3, 127, 985, 127, 3.5, 'spectrum-top-axis-left');
addAxisLine(254.3, 689.5, 985, 689.5, 3.5, 'spectrum-bottom-axis-left');
addAxisLine(1010.5, 127, 1741, 127, 3.5, 'spectrum-top-axis-right');
addAxisLine(1010.5, 689.5, 1741, 689.5, 3.5, 'spectrum-bottom-axis-right');
addAxisLine(254.3, 127, 254.3, 689.5, 4, 'spectrum-left-axis');
addAxisLine(1740.5, 127, 1740.5, 689.5, 4, 'spectrum-right-axis');
for (const w of wnMajorLeft.concat(wnMajorRight)) {
  addAxisLine(xA(w), 107, xA(w), 127, 4, 'x-major-tick-top');
  addAxisLine(xA(w), 689.5, xA(w), 708, 4, 'x-major-tick-bottom');
  addLabel(xA(w), 752.5, String(w), 35, 'middle', 'x-tick-label-' + w);
}
for (const w of wnMinorLeft.concat(wnMinorRight)) {
  addAxisLine(xA(w), 116, xA(w), 127, 4, 'x-minor-tick-top');
  addAxisLine(xA(w), 689.5, xA(w), 700, 4, 'x-minor-tick-bottom');
}
for (const v of radianceMajor) {
  addAxisLine(232, yA(v), 254.3, yA(v), 3.5, 'y-major-tick-left');
  addAxisLine(1740.5, yA(v), 1763, yA(v), 3.5, 'y-major-tick-right');
  addLabel(218, yA(v) + 12.5, String(v), 35, 'end', 'y-tick-label-' + v);
}
for (const v of radianceMinor) {
  addAxisLine(243, yA(v), 254.3, yA(v), 3.5, 'y-minor-tick-left');
  addAxisLine(1740.5, yA(v), 1752, yA(v), 3.5, 'y-minor-tick-right');
}

// ===== Panel (b) =====
const PANELS = {
  p1: {x0: 208.6, k: 555.7, xEnd: 598, clip: 'clipP1', major: panMajorTicks, minor: panMinorTicks, name: 'pan'},
  p2: {x0: 660, k: 2440, xEnd: 1050.4, clip: 'clipP2', major: errPpbvMajorTicks, minor: errPpbvMinorTicks, name: 'error-ppbv'},
  p3: {x0: 1112, k: 6.5, xEnd: 1502, clip: 'clipP3', major: errPctMajorTicks, minor: errPctMinorTicks, name: 'error-percent'},
  p4: {x0: 1563, k: 97.65, xEnd: 1953.6, clip: 'clipP4', major: resoMajorTicks, minor: resoMinorTicks, name: 'resolution'}
};
function addProfile(panel, values, alts, name, color, width, dash) {
  let d = '';
  values.forEach(function (v, i) {
    d += (i ? 'L' : 'M') + (panel.x0 + v * panel.k).toFixed(1) + ' ' + yB(alts[i]).toFixed(1);
  });
  const el = svgEl('path', {d: d, fill: 'none', stroke: color, 'stroke-width': width, 'stroke-linejoin': 'miter', 'clip-path': 'url(#' + panel.clip + ')'});
  if (dash) el.setAttribute('stroke-dasharray', dash);
  
  
  marks.appendChild(el);
}
const DASH_TEMP = '20 18', DASH_LOS = '6 17', DASH_FOV = '18 8 4 8', DASH_SPECD = '22 10 6 10', DASH_SPEC = '16 10 5 10 5 10';

addProfile(PANELS.p1, aprioriPan, aprioriAltitude, 'a-priori-profile-line', '#000', 4, '21 14');
addProfile(PANELS.p1, retrievedPan, altitudeKm, 'retrieved-profile-line', '#000', 4);

addProfile(PANELS.p2, noisePpbv, altitudeKm, 'noise-ppbv-line', '#f00', 5);
addProfile(PANELS.p2, tempPpbv, altitudeKm, 'temp-ppbv-line', '#0f0', 4.5, DASH_TEMP);
addProfile(PANELS.p2, losPpbv, altitudeKm, 'los-ppbv-line', '#00f', 4.5, DASH_LOS);
addProfile(PANELS.p2, fovPpbv, altitudeKm, 'fov-ppbv-line', '#808000', 4, DASH_FOV);
addProfile(PANELS.p2, specDPpbv, altitudeKm, 'spec-d-ppbv-line', '#0ff', 4.5, DASH_SPECD);
addProfile(PANELS.p2, specPpbv, altitudeKm, 'spec-ppbv-line', '#f0f', 4.5, DASH_SPEC);
addProfile(PANELS.p2, totalPpbv, altitudeKm, 'total-ppbv-line', '#000', 4);

addProfile(PANELS.p3, noisePct, altitudeKm, 'noise-percent-line', '#f00', 4.5);
addProfile(PANELS.p3, tempPct, altitudeKm, 'temp-percent-line', '#0f0', 4, DASH_TEMP);
addProfile(PANELS.p3, losPct, altitudeKm, 'los-percent-line', '#00f', 4, DASH_LOS);
addProfile(PANELS.p3, fovPct, altitudeKm, 'fov-percent-line', '#808000', 4, DASH_FOV);
addProfile(PANELS.p3, specDPct, altitudeKm, 'spec-d-percent-line', '#0ff', 4, DASH_SPECD);
addProfile(PANELS.p3, specPct, altitudeKm, 'spec-percent-line', '#f0f', 4.5, DASH_SPEC);
addProfile(PANELS.p3, totalPct, altitudeKm, 'total-percent-line', '#000', 4);

addProfile(PANELS.p4, altReso, altitudeKm, 'altitude-resolution-line', '#000', 4);
addProfile(PANELS.p4, zobsResolution, zobsAltitude, 'zobs-line', '#f00', 4, '21 21');

for (const key of ['p1', 'p2', 'p3', 'p4']) {
  const P = PANELS[key];
  const xL = P.x0, xR = P.xEnd;
  addAxisLine(xL, yB(15), xL, yB(5), 4, P.name + '-left-axis');
  addAxisLine(xR, yB(15), xR, yB(5), 4, P.name + '-right-axis');
  for (const z of altitudeMajorTicks) {
    addAxisLine(xL - 21.5, yB(z), xL, yB(z), 3.5, P.name + '-y-major-tick-left');
    addAxisLine(xR, yB(z), xR + 21.5, yB(z), 3.5, P.name + '-y-major-tick-right');
  }
  addAxisLine(xL, yB(15), xR, yB(15), 3.5, P.name + '-top-axis');
  addAxisLine(xL, yB(5), xR, yB(5), 3.5, P.name + '-bottom-axis');
  for (const z of altitudeMinorTicks) {
    addAxisLine(xL - 10.5, yB(z), xL, yB(z), 3.5, P.name + '-y-minor-tick-left');
    addAxisLine(xR, yB(z), xR + 10.5, yB(z), 3.5, P.name + '-y-minor-tick-right');
  }
  for (const t of P.major) {
    const x = P.x0 + t * P.k;
    addAxisLine(x, yB(15) - 19.5, x, yB(15), 4, P.name + '-x-major-tick-top');
    addAxisLine(x, yB(5), x, yB(5) + 21, 4, P.name + '-x-major-tick-bottom');
    addLabel(x, 971.5, String(t), 45, 'middle', P.name + '-top-tick-label');
    addLabel(x, 2120, String(t), 45, 'middle', P.name + '-bottom-tick-label');
  }
  for (const t of P.minor) {
    const x = P.x0 + t * P.k;
    addAxisLine(x, yB(15) - 10.5, x, yB(15), 4, P.name + '-x-minor-tick-top');
    addAxisLine(x, yB(5), x, yB(5) + 10, 4, P.name + '-x-minor-tick-bottom');
  }
}
for (const z of altitudeMajorTicks) {
  addLabel(171, yB(z) + 15, String(z), 45, 'end', 'left-altitude-tick-label-' + z);
  addLabel(1991, yB(z) + 15, String(z), 45, 'start', 'right-altitude-tick-label-' + z);
}
</script>
</body>
</html>
